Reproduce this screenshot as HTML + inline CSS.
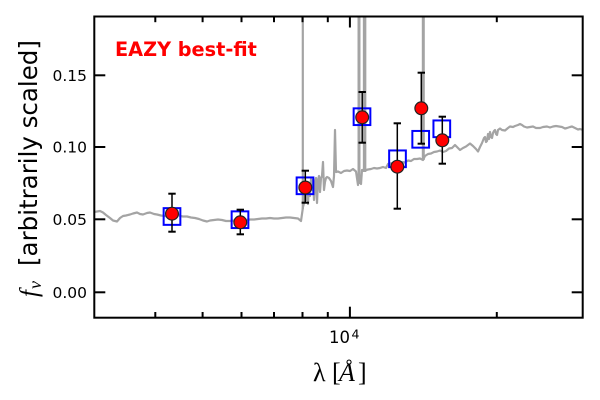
<!DOCTYPE html>
<html><head><meta charset="utf-8"><style>
html,body{margin:0;padding:0;background:#fff;}
svg{display:block;}
</style></head><body>
<svg width="600" height="400" viewBox="0 0 600 400" xmlns="http://www.w3.org/2000/svg">
<rect x="0" y="0" width="600" height="400" fill="#fff"/>
<defs><clipPath id="ax"><rect x="94.3" y="16.5" width="488.4" height="301.2"/></clipPath></defs>
<g clip-path="url(#ax)" fill="none" stroke="#a4a4a4" stroke-width="2.2" stroke-linejoin="round">
<polyline points="94,212 97,211.5 100,211 103,212.5 106,215 110,218 113,220.5 117,221.5 120,218 123,216 126,215.5 130,214.5 133,213.5 137,212.5 140,214 143,214.5 147,213 150,212.5 154,214 157,214.5 161,215.5 165,216 168,216.5 172,217 175,216 178,214 180,216 183,216.5 187,216.5 191,217.5 195,218 199,219 203,220.5 207,221.5 210,220.5 214,220 218,219.5 222,220 226,221 230,221 234,220.5 238,221.5 242,221 246,220 250,219.5 254,219.5 258,219 262,218.5 266,218.5 270,218 274,218.5 278,218.5 282,218 286,217.5 290,217.5 294,218 298,218.5 301,221 303,207 304,203 305,190 306,200 307,183 308,204 309,184 310,196 311,179 312,190 313,180 314,200 315,182 316,178 317,203 318,180 319,176 320,192 321,178 322,176 323,162 324,190 325,182 326,178 327,177 329,178 331,181 333,187 334,176 335,130 336,172 338,171.5 341,173 344,171 347,170.5 350,171 353,169 356,171.5 358,185 359,173 361,184 362,170 364,170 366,170 368,169.5 371,169 374,168 377,168.5 380,168 383,167 386,168 388,164 390,163.5 393,163 396,162.5 399,163 402,162 405,162.5 408,160.5 411,161 414,159 417,159 420,158.5 423,160 425,156 428,154 431,153.5 434,152 437,151.5 440,150.5 443,152 446,151 449,148.5 452,148 455,145 458,148 460,150 463,148 466,146.5 470,143.5 473,146 476,149 478,151.5 480,147 482,143 484,138 485,137 486,142 487,141 488,134 489,139 490,132 491,137 492,138 493,133 494,131 495,130 496,134 497,135 498,130 500,128.5 502,130 505,130.5 508,128 510,126.5 513,127 515,126 518,125 520,124 522,125 524,126.5 527,127.5 530,127 533,126.5 536,128 540,128 543,127 547,126.5 550,127.5 553,126.5 556,126 559,126.5 562,127 565,128.5 567,128 570,127 572,126.5 575,128 578,129.5 580,129 583,130"/>
<line x1="302.8" y1="209" x2="302.8" y2="10"/>
<line x1="359" y1="184" x2="359" y2="10" stroke-width="3"/>
<line x1="364.6" y1="172" x2="364.6" y2="10" stroke-width="3.5"/>
<line x1="423.3" y1="160" x2="423.3" y2="10" stroke-width="3"/>
</g>
<g fill="none" stroke="#0000ff" stroke-width="2">
<rect x="163.65" y="208.15" width="16.7" height="16.7"/>
<rect x="231.65" y="211.35" width="16.7" height="16.7"/>
<rect x="296.65" y="177.45" width="16.7" height="16.7"/>
<rect x="353.65" y="108.35" width="16.7" height="16.7"/>
<rect x="389.15" y="150.45" width="16.7" height="16.7"/>
<rect x="412.35" y="130.95" width="16.7" height="16.7"/>
<rect x="433.45" y="120.45" width="16.7" height="16.7"/>
</g>
<g stroke="#000" stroke-width="1.5" fill="none">
<line x1="172" y1="193.7" x2="172" y2="231.7"/><line x1="168.3" y1="193.7" x2="175.7" y2="193.7" stroke-width="2"/><line x1="168.3" y1="231.7" x2="175.7" y2="231.7" stroke-width="2"/>
<line x1="240.3" y1="209.7" x2="240.3" y2="234.3"/><line x1="236.6" y1="209.7" x2="244" y2="209.7" stroke-width="2"/><line x1="236.6" y1="234.3" x2="244" y2="234.3" stroke-width="2"/>
<line x1="305.3" y1="170.7" x2="305.3" y2="202.7"/><line x1="301.6" y1="170.7" x2="309" y2="170.7" stroke-width="2"/><line x1="301.6" y1="202.7" x2="309" y2="202.7" stroke-width="2"/>
<line x1="362.2" y1="92" x2="362.2" y2="142.7"/><line x1="358.5" y1="92" x2="365.9" y2="92" stroke-width="2"/><line x1="358.5" y1="142.7" x2="365.9" y2="142.7" stroke-width="2"/>
<line x1="397.3" y1="123.3" x2="397.3" y2="208.7"/><line x1="393.6" y1="123.3" x2="401" y2="123.3" stroke-width="2"/><line x1="393.6" y1="208.7" x2="401" y2="208.7" stroke-width="2"/>
<line x1="421.3" y1="72.7" x2="421.3" y2="143.7"/><line x1="417.6" y1="72.7" x2="425" y2="72.7" stroke-width="2"/><line x1="417.6" y1="143.7" x2="425" y2="143.7" stroke-width="2"/>
<line x1="442.3" y1="116.7" x2="442.3" y2="163.7"/><line x1="438.6" y1="116.7" x2="446" y2="116.7" stroke-width="2"/><line x1="438.6" y1="163.7" x2="446" y2="163.7" stroke-width="2"/>
</g>
<g fill="#ff0000" stroke="#222" stroke-width="1.2">
<circle cx="172" cy="213.7" r="6.4"/>
<circle cx="240.3" cy="222.3" r="6.4"/>
<circle cx="305.3" cy="187.5" r="6.4"/>
<circle cx="362.2" cy="117.3" r="6.4"/>
<circle cx="397.3" cy="166.7" r="6.4"/>
<circle cx="421.3" cy="108.3" r="6.4"/>
<circle cx="442.3" cy="140.3" r="6.4"/>
</g>
<g stroke="#000" stroke-width="2">
<line x1="349.9" y1="317.7" x2="349.9" y2="306.7"/>
<line x1="155.3" y1="317.7" x2="155.3" y2="312"/>
<line x1="202.6" y1="317.7" x2="202.6" y2="312"/>
<line x1="241.5" y1="317.7" x2="241.5" y2="312"/>
<line x1="274" y1="317.7" x2="274" y2="312"/>
<line x1="302.5" y1="317.7" x2="302.5" y2="312"/>
<line x1="327.8" y1="317.7" x2="327.8" y2="312"/>
<line x1="496.8" y1="317.7" x2="496.8" y2="312"/>
<line x1="349.9" y1="16.5" x2="349.9" y2="27.5"/>
<line x1="155.3" y1="16.5" x2="155.3" y2="22.2"/>
<line x1="202.6" y1="16.5" x2="202.6" y2="22.2"/>
<line x1="241.5" y1="16.5" x2="241.5" y2="22.2"/>
<line x1="274" y1="16.5" x2="274" y2="22.2"/>
<line x1="302.5" y1="16.5" x2="302.5" y2="22.2"/>
<line x1="327.8" y1="16.5" x2="327.8" y2="22.2"/>
<line x1="496.8" y1="16.5" x2="496.8" y2="22.2"/>
<line x1="94.3" y1="75.3" x2="105.3" y2="75.3"/>
<line x1="94.3" y1="147" x2="105.3" y2="147"/>
<line x1="94.3" y1="219.3" x2="105.3" y2="219.3"/>
<line x1="94.3" y1="292.3" x2="105.3" y2="292.3"/>
<line x1="582.7" y1="75.3" x2="571.7" y2="75.3"/>
<line x1="582.7" y1="147" x2="571.7" y2="147"/>
<line x1="582.7" y1="219.3" x2="571.7" y2="219.3"/>
<line x1="582.7" y1="292.3" x2="571.7" y2="292.3"/>
</g>
<rect x="94.3" y="16.5" width="488.4" height="301.2" fill="none" stroke="#000" stroke-width="2"/>
<g font-family="'DejaVu Sans','Liberation Sans',sans-serif" font-size="15.5" fill="#000" text-anchor="end">
<text x="87" y="80.9">0.15</text>
<text x="87" y="152.6">0.10</text>
<text x="87" y="224.9">0.05</text>
<text x="87" y="297.9">0.00</text>
</g>
<text x="329" y="343" font-family="'DejaVu Sans','Liberation Sans',sans-serif" font-size="16.5" fill="#000">10</text>
<text x="351.5" y="338.5" font-family="'DejaVu Sans','Liberation Sans',sans-serif" font-size="12.5" fill="#000">4</text>
<g font-family="'Liberation Serif','DejaVu Serif',serif" font-size="26" fill="#000">
<text x="313" y="381">λ</text>
<text x="332" y="381">[</text>
<text x="339" y="381" font-style="italic">Å</text>
<text x="358" y="381">]</text>
</g>
<g transform="translate(37,297) rotate(-90)" fill="#000">
<text x="0" y="0" font-family="'Liberation Serif','DejaVu Serif',serif" font-style="italic" font-size="25">f</text>
<text x="8" y="4" font-family="'Liberation Serif','DejaVu Serif',serif" font-style="italic" font-size="18">ν</text>
</g>
<text transform="translate(37,266) rotate(-90)" x="0" y="0" font-family="'DejaVu Sans','Liberation Sans',sans-serif" font-size="24.5" fill="#000">[arbitrarily scaled]</text>
<text x="115" y="56" font-family="'DejaVu Sans','Liberation Sans',sans-serif" font-weight="bold" font-size="19.3" fill="#ff0000">EAZY best-fit</text>
</svg>
</body></html>
